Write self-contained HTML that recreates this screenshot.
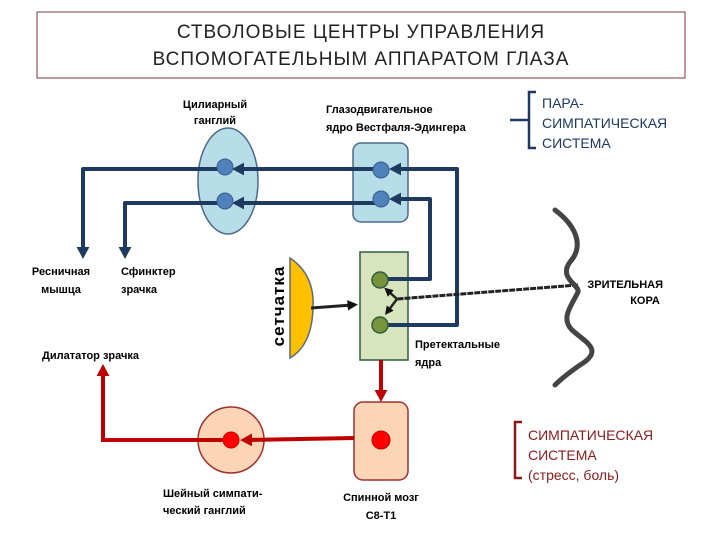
<!DOCTYPE html>
<html><head><meta charset="utf-8"><style>
html,body{margin:0;padding:0;background:#fff;}
svg{display:block;font-family:"Liberation Sans",sans-serif;}
.b{font-weight:bold;font-size:11px;fill:#000;}
</style></head><body>
<svg width="720" height="540" viewBox="0 0 720 540" xmlns="http://www.w3.org/2000/svg">
<defs>
<marker id="ab" markerWidth="3" markerHeight="3.2" refX="1.5" refY="1.6" orient="auto" markerUnits="strokeWidth"><path d="M0,0 L3,1.6 L0,3.2 z" fill="#1f3a5f"/></marker>
<marker id="ar" markerWidth="3" markerHeight="3.2" refX="1.5" refY="1.6" orient="auto" markerUnits="strokeWidth"><path d="M0,0 L3,1.6 L0,3.2 z" fill="#c00000"/></marker>
<marker id="ak" markerWidth="3.5" markerHeight="3.5" refX="1.5" refY="1.75" orient="auto" markerUnits="strokeWidth"><path d="M0,0 L3.5,1.75 L0,3.5 z" fill="#111"/></marker>
</defs>
<rect x="37" y="12" width="648" height="66" fill="#fff" stroke="#7a3a3a" stroke-width="1"/>
<text x="361" y="38" text-anchor="middle" font-size="19" fill="#222" letter-spacing="1">СТВОЛОВЫЕ ЦЕНТРЫ УПРАВЛЕНИЯ</text>
<text x="361" y="65" text-anchor="middle" font-size="19" fill="#222" letter-spacing="1">ВСПОМОГАТЕЛЬНЫМ АППАРАТОМ ГЛАЗА</text>

<ellipse cx="228" cy="181" rx="30" ry="53" fill="#b7dde8" stroke="#4a6a8a" stroke-width="1.5"/>
<rect x="353" y="143" width="55" height="79" rx="8" fill="#b7dde8" stroke="#4a6a8a" stroke-width="1.5"/>
<rect x="360" y="252" width="48" height="108" fill="#d7e4bd" stroke="#2e5e3e" stroke-width="1.5"/>
<path d="M290,258 Q315,275 313,308 Q312,345 290,358 Z" fill="#ffc000" stroke="#5a6a7a" stroke-width="1.5"/>

<g fill="none" stroke="#1f3a5f" stroke-width="4" stroke-linejoin="round">
<path d="M225,169 L83,169 L83,253" marker-end="url(#ab)"/>
<path d="M225,203 L125,203 L125,253" marker-end="url(#ab)"/>
<path d="M381,169 L238,169" marker-end="url(#ab)"/>
<path d="M381,203 L238,203" marker-end="url(#ab)"/>
<path d="M380,325 L457,325 L457,169 L395,169" marker-end="url(#ab)"/>
<path d="M380,279 L430,279 L430,199 L395,199" marker-end="url(#ab)"/>
</g>
<circle cx="225" cy="167" r="8" fill="#4f81bd" stroke="#385d8a"/>
<circle cx="225" cy="201" r="8" fill="#4f81bd" stroke="#385d8a"/>
<circle cx="381" cy="170" r="8" fill="#4f81bd" stroke="#385d8a"/>
<circle cx="381" cy="199" r="8" fill="#4f81bd" stroke="#385d8a"/>

<g fill="none" stroke="#222" stroke-width="3">
<path d="M311,308 L352,305" marker-end="url(#ak)"/>
<path d="M578,285 L397,299" stroke-dasharray="6,1"/>
<path d="M397,299 L388,291" stroke-width="2.5" marker-end="url(#ak)"/>
<path d="M397,299 L388,311" stroke-width="2.5" marker-end="url(#ak)"/>
</g>
<circle cx="380" cy="280" r="8" fill="#77933c" stroke="#2e5e3e" stroke-width="1.5"/>
<circle cx="380" cy="325" r="8" fill="#77933c" stroke="#2e5e3e" stroke-width="1.5"/>

<path d="M555,210 C575,225 585,245 570,262 C558,278 580,285 578,292 C572,305 560,318 572,330 C585,342 605,350 580,365 C570,372 560,380 555,385" fill="none" stroke="#444" stroke-width="5" stroke-linecap="round"/>

<rect x="354" y="402" width="54" height="78" rx="9" fill="#fbd5b5" stroke="#a0302e" stroke-width="1.5"/>
<circle cx="231" cy="440" r="33" fill="#fbd5b5" stroke="#a0302e" stroke-width="1.5"/>
<g fill="none" stroke="#c00000" stroke-width="4">
<path d="M381,360 L381,396" marker-end="url(#ar)"/>
<path d="M354,438 L246,440" marker-end="url(#ar)"/>
<path d="M231,440 L103,440 L103,370" marker-end="url(#ar)"/>
</g>
<circle cx="231" cy="440" r="8" fill="#ff0000" stroke="#c00000"/>
<circle cx="381" cy="440" r="9" fill="#ff0000" stroke="#c00000"/>

<path d="M536,92 L529,92 L529,120 L522,120 L529,120 L529,148 L536,148" fill="none" stroke="#1f3864" stroke-width="2.5"/>
<path d="M510,120 L522,120" stroke="#1f3864" stroke-width="2.5"/>
<text x="542" y="108" font-size="14" fill="#1f3864">ПАРА-</text>
<text x="542" y="128" font-size="14" fill="#1f3864">СИМПАТИЧЕСКАЯ</text>
<text x="542" y="148" font-size="14" fill="#1f3864">СИСТЕМА</text>
<path d="M522,422 L515,422 L515,478 L522,478" fill="none" stroke="#8b1a1a" stroke-width="2.5"/>
<text x="528" y="440" font-size="14" fill="#8b1a1a">СИМПАТИЧЕСКАЯ</text>
<text x="528" y="460" font-size="14" fill="#8b1a1a">СИСТЕМА</text>
<text x="528" y="480" font-size="14" fill="#8b1a1a">(стресс, боль)</text>

<text class="b" x="215" y="108" text-anchor="middle">Цилиарный</text>
<text class="b" x="215" y="124" text-anchor="middle">ганглий</text>
<text class="b" x="326" y="113">Глазодвигательное</text>
<text class="b" x="326" y="131">ядро Вестфаля-Эдингера</text>
<text class="b" x="61" y="275" text-anchor="middle">Ресничная</text>
<text class="b" x="61" y="293" text-anchor="middle">мышца</text>
<text class="b" x="121" y="275">Сфинктер</text>
<text class="b" x="121" y="293">зрачка</text>
<text class="b" x="42" y="359">Дилататор зрачка</text>
<text x="0" y="0" font-weight="bold" font-size="17" fill="#000" letter-spacing="1" text-anchor="middle" transform="translate(284,306) rotate(-90)">сетчатка</text>
<text class="b" x="415" y="348">Претектальные</text>
<text class="b" x="415" y="366">ядра</text>
<text class="b" x="663" y="288" text-anchor="end">ЗРИТЕЛЬНАЯ</text>
<text class="b" x="645" y="304" text-anchor="middle">КОРА</text>
<text class="b" x="163" y="497">Шейный симпати-</text>
<text class="b" x="163" y="514">ческий ганглий</text>
<text class="b" x="381" y="501" text-anchor="middle">Спинной мозг</text>
<text class="b" x="381" y="519" text-anchor="middle">C8-T1</text>
</svg>
</body></html>
